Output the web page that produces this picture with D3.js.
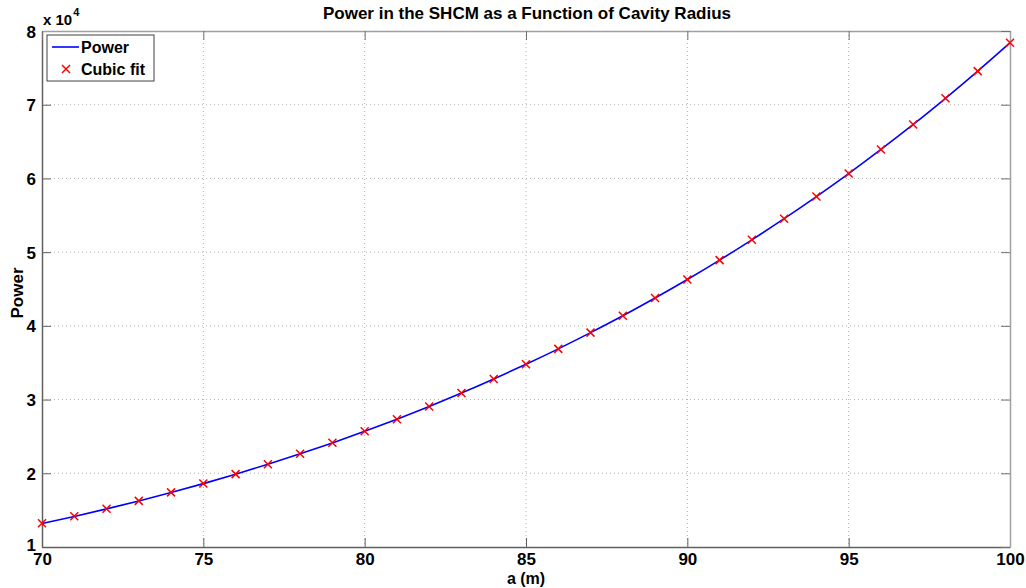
<!DOCTYPE html>
<html>
<head>
<meta charset="utf-8">
<script src="https://cdn.jsdelivr.net/npm/d3@7"></script>
<style>
  body { margin: 0; background: #fff; }
  svg { display: block; font-family: "Liberation Sans", Arial, sans-serif; }
</style>
</head>
<body>
<svg id="chart" width="1026" height="588"></svg>
<script>
// Cavity radius a (m) and power (units of 1e4)
const radius = [70,71,72,73,74,75,76,77,78,79,80,81,82,83,84,85,86,87,88,89,90,91,92,93,94,95,96,97,98,99,100];
const power = [1.318,1.414,1.517,1.625,1.740,1.860,1.988,2.122,2.264,2.412,2.569,2.734,2.907,3.088,3.279,3.479,3.688,3.908,4.137,4.378,4.629,4.892,5.167,5.454,5.754,6.066,6.393,6.732,7.087,7.456,7.840];
const cubicFit = [1.322,1.416,1.518,1.626,1.741,1.861,1.989,2.123,2.265,2.413,2.570,2.734,2.907,3.088,3.279,3.479,3.688,3.908,4.137,4.378,4.629,4.892,5.167,5.454,5.754,6.066,6.393,6.732,7.087,7.456,7.840];
const xTicks = [70,75,80,85,90,95,100];
const yTicks = [1,2,3,4,5,6,7,8];

const svg = d3.select("#chart");
const plotLeft = 42, plotRight = 1010, plotTop = 31, plotBottom = 547;

const x = d3.scaleLinear().domain([70,100]).range([plotLeft,plotRight]);
const y = d3.scaleLinear().domain([1,8]).range([plotBottom,plotTop]);

// dotted grid
const grid = svg.append("g");
grid.selectAll(".gx").data(xTicks.slice(1,-1)).join("line")
  .attr("x1", d => x(d)).attr("x2", d => x(d)).attr("y1", plotTop).attr("y2", plotBottom)
  .attr("stroke", "#b0b0b0").attr("stroke-width", 1).attr("stroke-dasharray", "1,3");
grid.selectAll(".gy").data(yTicks.slice(1,-1)).join("line")
  .attr("y1", d => y(d)).attr("y2", d => y(d)).attr("x1", plotLeft).attr("x2", plotRight)
  .attr("stroke", "#b0b0b0").attr("stroke-width", 1).attr("stroke-dasharray", "1,3");

// axes box: bottom/left via d3 axes, top/right mirrored
const tickLen = 9;
const fmtNone = () => "";
const axB = svg.append("g").attr("transform", `translate(0,${plotBottom})`)
  .call(d3.axisBottom(x).tickValues(xTicks).tickSizeInner(-tickLen).tickSizeOuter(0).tickPadding(6).tickFormat(d3.format("d")));
const axL = svg.append("g").attr("transform", `translate(${plotLeft},0)`)
  .call(d3.axisLeft(y).tickValues(yTicks).tickSizeInner(-tickLen).tickSizeOuter(0).tickPadding(6).tickFormat(d3.format("d")));
const axT = svg.append("g").attr("transform", `translate(0,${plotTop})`)
  .call(d3.axisTop(x).tickValues(xTicks).tickSizeInner(-tickLen).tickSizeOuter(0).tickFormat(fmtNone));
const axR = svg.append("g").attr("transform", `translate(${plotRight},0)`)
  .call(d3.axisRight(y).tickValues(yTicks).tickSizeInner(-tickLen).tickSizeOuter(0).tickFormat(fmtNone));

[axB, axL].forEach(a => {
  a.select(".domain").attr("stroke", "#606060").attr("stroke-width", 1.5);
  a.selectAll(".tick line").attr("stroke", "#606060");
  a.selectAll(".tick text").attr("fill", "#000").attr("font-size", 17).attr("font-weight", "bold")
    .attr("font-family", "'Liberation Sans', Arial, sans-serif");
});
[axT, axR].forEach(a => {
  a.select(".domain").attr("stroke", "#a0a0a0").attr("stroke-width", 1.5);
  a.selectAll(".tick line").attr("stroke", "#707070");
});
axL.selectAll(".tick text").attr("dy", "0.36em");
axL.selectAll(".tick text").filter(d => d === 1).attr("dy", "0.2em");
axB.selectAll(".tick text").attr("dy", "0.71em");

// series
const pts = radius.map((r, i) => ({ r, p: power[i], f: cubicFit[i] }));
svg.append("path").datum(pts)
  .attr("fill", "none").attr("stroke", "#0000ff").attr("stroke-width", 1.6)
  .attr("d", d3.line().x(d => x(d.r)).y(d => y(d.p)).curve(d3.curveNatural));

const m = 4;
const marks = svg.append("g").attr("stroke", "#ff0000").attr("stroke-width", 1.5);
marks.selectAll("path").data(pts).join("path")
  .attr("d", d => {
    const cx = x(d.r), cy = y(d.f);
    return `M${cx-m},${cy-m}L${cx+m},${cy+m}M${cx-m},${cy+m}L${cx+m},${cy-m}`;
  });

// title and labels
svg.append("text").attr("x", 527).attr("y", 19).attr("text-anchor", "middle")
  .attr("font-size", 17).attr("font-weight", "bold").text("Power in the SHCM as a Function of Cavity Radius");
svg.append("text").attr("x", 526).attr("y", 584).attr("text-anchor", "middle")
  .attr("font-size", 16).attr("font-weight", "bold").text("a (m)");
svg.append("text").attr("transform", "translate(23,293) rotate(-90)").attr("text-anchor", "middle")
  .attr("font-size", 17).attr("font-weight", "bold").text("Power");

const ex = svg.append("text").attr("x", 43).attr("y", 25).attr("font-size", 15).attr("font-weight", "bold");
ex.append("tspan").text("x 10");
ex.append("tspan").attr("font-size", 11).attr("dy", -9).attr("dx", 1).text("4");

// legend
const lg = svg.append("g").attr("transform", "translate(47,35)");
lg.append("rect").attr("width", 107).attr("height", 46).attr("fill", "#fff")
  .attr("stroke", "#404040").attr("stroke-width", 1);
lg.append("line").attr("x1", 5).attr("x2", 32).attr("y1", 12).attr("y2", 12)
  .attr("stroke", "#0000ff").attr("stroke-width", 1.6);
lg.append("text").attr("x", 34).attr("y", 18).attr("font-size", 16).attr("font-weight", "bold").text("Power");
lg.append("path").attr("d", `M${19-m},${34-m}L${19+m},${34+m}M${19-m},${34+m}L${19+m},${34-m}`)
  .attr("stroke", "#ff0000").attr("stroke-width", 1.5);
lg.append("text").attr("x", 34).attr("y", 40).attr("font-size", 16).attr("font-weight", "bold").text("Cubic fit");
</script>
</body>
</html>
